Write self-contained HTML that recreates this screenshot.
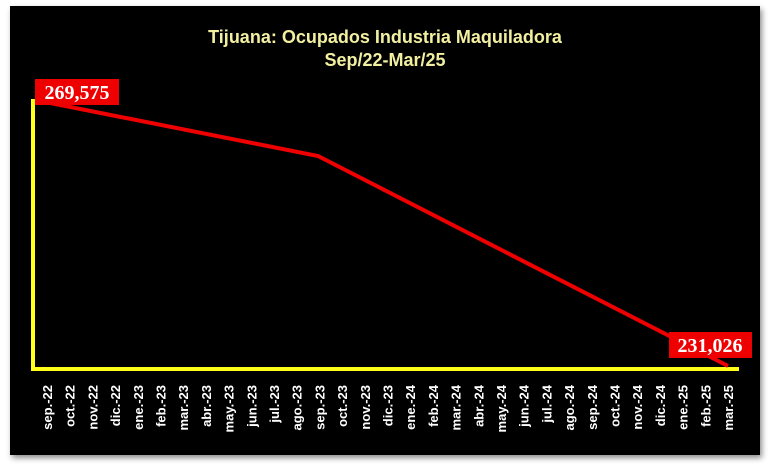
<!DOCTYPE html>
<html><head><style>
body{margin:0;background:#fff;width:770px;height:470px;overflow:hidden}
</style></head><body>
<svg width="770" height="470" xmlns="http://www.w3.org/2000/svg">
<defs><filter id="sh" x="-5%" y="-5%" width="110%" height="110%"><feDropShadow dx="2" dy="3" stdDeviation="3" flood-color="#000" flood-opacity="0.45"/></filter></defs>
<rect x="10" y="6" width="750" height="449" fill="#050505" filter="url(#sh)"/>
<text x="385" y="43" text-anchor="middle" font-family="Liberation Sans, sans-serif" font-weight="bold" font-size="18" fill="#f2f0a0">Tijuana: Ocupados Industria Maquiladora</text>
<text x="385" y="66" text-anchor="middle" font-family="Liberation Sans, sans-serif" font-weight="bold" font-size="18" fill="#f2f0a0">Sep/22-Mar/25</text>
<polyline points="33,99 33,369 739,369" fill="none" stroke="#ffff1a" stroke-width="4"/>
<polyline points="40,101 318,156 728,366" fill="none" stroke="#ee0000" stroke-width="4"/>
<rect x="35" y="79" width="84" height="26" fill="#ee0000"/>
<text x="77" y="99" text-anchor="middle" font-family="Liberation Serif, serif" font-weight="bold" font-size="20" fill="#fff">269,575</text>
<rect x="669" y="332" width="83" height="26" fill="#ee0000"/>
<text x="710" y="352" text-anchor="middle" font-family="Liberation Serif, serif" font-weight="bold" font-size="20" fill="#fff">231,026</text>
<g font-family="Liberation Sans, sans-serif" font-size="13" font-weight="bold" fill="#fff" text-anchor="end">
<text transform="translate(52,385) rotate(-90)">sep.-22</text>
<text transform="translate(74.7,385) rotate(-90)">oct.-22</text>
<text transform="translate(97.4,385) rotate(-90)">nov.-22</text>
<text transform="translate(120.1,385) rotate(-90)">dic.-22</text>
<text transform="translate(142.8,385) rotate(-90)">ene.-23</text>
<text transform="translate(165.5,385) rotate(-90)">feb.-23</text>
<text transform="translate(188.2,385) rotate(-90)">mar.-23</text>
<text transform="translate(210.9,385) rotate(-90)">abr.-23</text>
<text transform="translate(233.6,385) rotate(-90)">may.-23</text>
<text transform="translate(256.3,385) rotate(-90)">jun.-23</text>
<text transform="translate(279,385) rotate(-90)">jul.-23</text>
<text transform="translate(301.7,385) rotate(-90)">ago.-23</text>
<text transform="translate(324.4,385) rotate(-90)">sep.-23</text>
<text transform="translate(347.1,385) rotate(-90)">oct.-23</text>
<text transform="translate(369.8,385) rotate(-90)">nov.-23</text>
<text transform="translate(392.5,385) rotate(-90)">dic.-23</text>
<text transform="translate(415.2,385) rotate(-90)">ene.-24</text>
<text transform="translate(437.9,385) rotate(-90)">feb.-24</text>
<text transform="translate(460.6,385) rotate(-90)">mar.-24</text>
<text transform="translate(483.3,385) rotate(-90)">abr.-24</text>
<text transform="translate(506,385) rotate(-90)">may.-24</text>
<text transform="translate(528.7,385) rotate(-90)">jun.-24</text>
<text transform="translate(551.4,385) rotate(-90)">jul.-24</text>
<text transform="translate(574.1,385) rotate(-90)">ago.-24</text>
<text transform="translate(596.8,385) rotate(-90)">sep.-24</text>
<text transform="translate(619.5,385) rotate(-90)">oct.-24</text>
<text transform="translate(642.2,385) rotate(-90)">nov.-24</text>
<text transform="translate(664.9,385) rotate(-90)">dic.-24</text>
<text transform="translate(687.6,385) rotate(-90)">ene.-25</text>
<text transform="translate(710.3,385) rotate(-90)">feb.-25</text>
<text transform="translate(733,385) rotate(-90)">mar.-25</text>
</g>
</svg>
</body></html>
